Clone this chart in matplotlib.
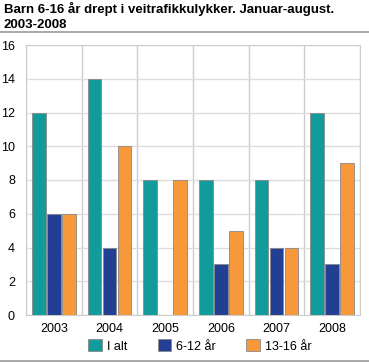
import matplotlib.pyplot as plt
import numpy as np
from matplotlib.lines import Line2D

plt.rcParams['font.family'] = ['Liberation Sans', 'DejaVu Sans']

years = ["2003", "2004", "2005", "2006", "2007", "2008"]
i_alt = [12, 14, 8, 8, 8, 12]
age_6_12 = [6, 4, 0, 3, 4, 3]
age_13_16 = [6, 10, 8, 5, 4, 9]

series = [("I alt", i_alt, "#129b9b"),
          ("6-12 år", age_6_12, "#233f94"),
          ("13-16 år", age_13_16, "#f7993a")]

W, H = 369, 363
fig = plt.figure(figsize=(W / 100, H / 100), dpi=100)
ax = fig.add_axes([26 / W, 1 - 315 / H, (360 - 26) / W, (315 - 45) / H])

x = np.arange(len(years))
width = 0.245
for k, (label, vals, col) in enumerate(series):
    ax.bar(x + (k - 1) * 0.27, vals, width, color=col, label=label,
           edgecolor="#888888", linewidth=0.6, zorder=3)

ax.set_xlim(-0.5, len(years) - 0.5)
ax.set_ylim(0, 16)
ax.set_yticks(range(0, 17, 2))
ax.set_xticks(x, years)
ax.set_xticks(np.arange(-0.5, len(years), 1), minor=True)
ax.grid(axis="y", color="#dddddd", linewidth=1, zorder=0)
ax.grid(axis="x", which="minor", color="#cccccc", linewidth=1, zorder=0)
ax.tick_params(which="both", length=0, labelsize=9, colors="#000000")
ax.tick_params(axis="x", pad=6)
ax.tick_params(axis="y", pad=8)
for s in ax.spines.values():
    s.set_color("#cccccc")

fig.text(4 / W, 1 - 2 / H, "Barn 6-16 år drept i veitrafikkulykker. Januar-august.\n2003-2008",
         ha="left", va="top", fontsize=9.5, fontweight="bold", linespacing=1.3)
fig.add_artist(Line2D([0, 1], [1 - 32 / H, 1 - 32 / H], color="#999999", linewidth=1.2))
fig.add_artist(Line2D([0, 1], [1 - 361 / H, 1 - 361 / H], color="#999999", linewidth=1.2))

fig.legend(loc="center", bbox_to_anchor=(200 / W, 1 - 346 / H), ncol=3, frameon=False,
           fontsize=9, handlelength=1.1, handleheight=1.1, columnspacing=2.4,
           handletextpad=0.4)

fig.savefig("out.png", dpi=100)
